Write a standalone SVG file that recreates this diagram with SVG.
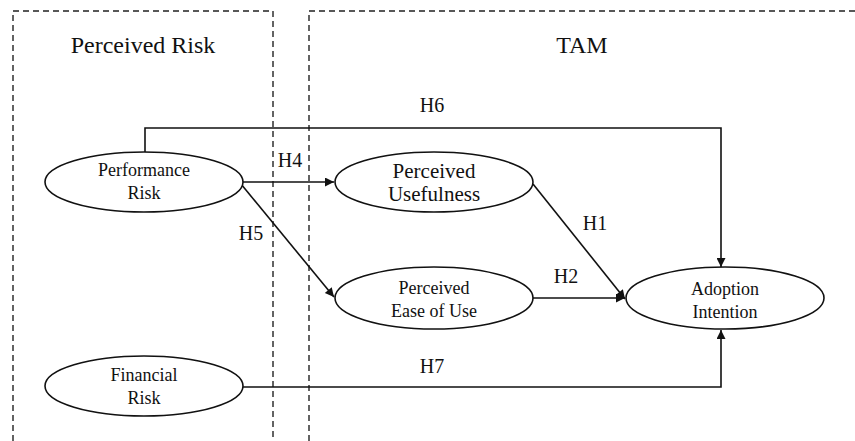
<svg xmlns="http://www.w3.org/2000/svg" width="855" height="441" viewBox="0 0 855 441">
<style>
.box{fill:none;stroke:#222;stroke-width:1.4;stroke-dasharray:6,4}
.node ellipse{fill:#fff;stroke:#111;stroke-width:1.6}
.node text{font-family:"Liberation Serif","Times New Roman",serif;font-size:18px;fill:#111;text-anchor:middle}
.title{font-family:"Liberation Serif","Times New Roman",serif;font-size:24px;fill:#111;text-anchor:middle}
.lbl{font-family:"Liberation Serif","Times New Roman",serif;font-size:20px;fill:#111;text-anchor:middle}
.edge{fill:none;stroke:#111;stroke-width:1.6;marker-end:url(#ah)}
.plain{fill:none;stroke:#111;stroke-width:1.6}
</style>
<defs>
<marker id="ah" viewBox="0 0 10 10" refX="10" refY="5" markerWidth="11" markerHeight="9" markerUnits="userSpaceOnUse" orient="auto">
<path d="M0,0 L10,5 L0,10 Z" fill="#111"/>
</marker>
</defs>
<rect width="855" height="441" fill="#fff"/>
<g id="groups">
<path class="box" d="M13,441 V11 H273 V441"/>
<path class="box" d="M309,441 V11 H855"/>
<text class="title" x="143" y="53">Perceived Risk</text>
<text class="title" x="582" y="53">TAM</text>
</g>
<g id="connectors">
<path class="edge" d="M145,152 V128 H721 V267"/>
<path class="edge" d="M243,182 H334"/>
<path class="edge" d="M241,184 L334,297"/>
<path class="edge" d="M533,184 L625,299"/>
<path class="edge" d="M533,298 H625"/>
<path class="edge" d="M243,387 H721 V330"/>
<text class="lbl" x="432" y="112">H6</text>
<text class="lbl" x="290" y="167">H4</text>
<text class="lbl" x="251" y="240">H5</text>
<text class="lbl" x="595" y="230">H1</text>
<text class="lbl" x="566" y="283">H2</text>
<text class="lbl" x="432" y="373">H7</text>
</g>
<g id="performance-risk" class="node">
<ellipse cx="144" cy="182" rx="99" ry="30"/>
<text x="144" y="176">Performance</text>
<text x="144" y="199">Risk</text>
</g>
<g id="financial-risk" class="node">
<ellipse cx="144" cy="386" rx="99" ry="30"/>
<text x="144" y="381">Financial</text>
<text x="144" y="404">Risk</text>
</g>
<g id="perceived-usefulness" class="node">
<ellipse cx="434" cy="182" rx="99" ry="30"/>
<text x="434" y="178" style="font-size:21px">Perceived</text>
<text x="434" y="201" style="font-size:21px">Usefulness</text>
</g>
<g id="perceived-ease-of-use" class="node">
<ellipse cx="434" cy="298" rx="99" ry="31"/>
<text x="434" y="294">Perceived</text>
<text x="434" y="317">Ease of Use</text>
</g>
<g id="adoption-intention" class="node">
<ellipse cx="725" cy="298" rx="99" ry="31"/>
<text x="725" y="295">Adoption</text>
<text x="725" y="318">Intention</text>
</g>
</svg>
